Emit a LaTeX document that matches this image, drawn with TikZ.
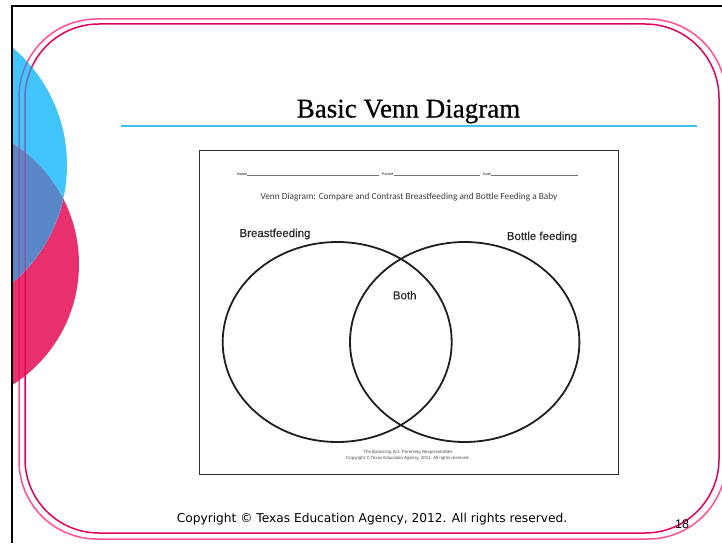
\documentclass[tikz,border=0pt]{standalone}
\usepackage{fontspec}
\setmainfont{Liberation Serif}
\setsansfont{Liberation Sans}
\newfontfamily\calib{Carlito}
\newfontfamily\verd{DejaVu Sans}
\newfontfamily\titleserif[FakeBold=0.6]{Liberation Serif}
\newfontfamily\labelsans[FakeBold=0.5]{Liberation Sans}
\definecolor{framepinkA}{HTML}{FF4F96}
\definecolor{framepinkB}{HTML}{E0005F}
\definecolor{ruleblue}{HTML}{3FC2F2}
\definecolor{dotblue}{HTML}{20BBFA}
\definecolor{dotpink}{HTML}{E40C56}
\definecolor{dotmix}{HTML}{3E72BF}
\definecolor{inkgray}{HTML}{2A2A2A}
\tikzset{
  frameline/.style={line width=1.5pt, rounded corners=78pt},
  venn/.style={line width=1.8pt, draw=black!88},
  label/.style={font=\labelsans\fontsize{11.5}{13}\selectfont, text=inkgray, inner sep=0pt, anchor=base},
  tiny/.style={font=\sffamily\fontsize{4.4}{5}\selectfont, text=black!70, inner sep=0pt, anchor=base},
  formline/.style={line width=0.6pt, draw=black!55},
}
\begin{document}
\begin{tikzpicture}[x=1pt, y=-1pt]
\useasboundingbox (0,0) rectangle (722,543);
\fill[white] (0,0) rectangle (722,543);

% double rounded border of the slide
\draw[frameline, draw=framepinkA] (19,19) rectangle (726,539);
\draw[frameline, draw=framepinkB, rounded corners=74pt] (25,24) rectangle (719,533);

% translucent decorative discs on the left edge
\begin{scope}
  \clip (13.2,7) rectangle (722,543);
  \fill[dotpink, opacity=0.85] (-64,264) circle (143);
  \fill[dotblue, opacity=0.85] (-87,165) circle (154);
  \begin{scope}
    \clip (-64,264) circle (143);
    \fill[white] (-87,165) circle (154);
    \fill[dotmix, opacity=0.85] (-87,165) circle (154);
  \end{scope}
\end{scope}
% border lines shining through the blue disc
\begin{scope}
  \clip (13.2,7) rectangle (722,543);
  \clip (-87,165) circle (154);
  \draw[frameline, draw=framepinkB, opacity=0.3] (19,19) rectangle (726,539);
  \draw[frameline, draw=framepinkB, opacity=0.3, rounded corners=74pt] (25,24) rectangle (719,533);
\end{scope}

% outer black frame (top and left edges)
\draw[line width=2.3pt, black] (12,543) -- (12,6) -- (722,6);

% title and its rule
\node[font=\titleserif\fontsize{27}{31}\selectfont, inner sep=0pt, anchor=base] (title) at (408.5,117.5) {Basic Venn Diagram};
\coordinate (ruleL) at (121,126);
\coordinate (ruleR) at (697,126);
\draw[line width=1.4pt, ruleblue] (ruleL) -- (ruleR);

% worksheet panel
\node[draw=black!80, line width=1.3pt, minimum width=419pt, minimum height=324pt, inner sep=0pt, anchor=north west] (sheet) at (199,149.5) {};

% name / period / date line
\node[tiny, font=\sffamily\bfseries\fontsize{3.6}{4}\selectfont, anchor=base west] (nm) at (237,175) {Name};
\node[tiny, font=\sffamily\bfseries\fontsize{3.6}{4}\selectfont, anchor=base west] (pd) at (382,175) {Period};
\node[tiny, font=\sffamily\bfseries\fontsize{3.6}{4}\selectfont, anchor=base west] (dt) at (483,175) {Date};
\coordinate (nmEnd) at (379,175.5);
\coordinate (pdEnd) at (480,175.5);
\coordinate (dtEnd) at (578,175.5);
\draw[formline] (nm.base east) ++(0,0.5) -- (nmEnd);
\draw[formline] (pd.base east) ++(0,0.5) -- (pdEnd);
\draw[formline] (dt.base east) ++(0,0.5) -- (dtEnd);

\node[font=\calib\fontsize{9.3}{11}\selectfont, text=black!75, inner sep=0pt, anchor=base] (head) at (409,199) {Venn Diagram: Compare and Contrast Breastfeeding and Bottle Feeding a Baby};

% the two overlapping sets
\draw[venn] (337.2,342) ellipse [x radius=114.5, y radius=100];
\draw[venn] (464.7,342) ellipse [x radius=114.7, y radius=100];

\node[label] (setA) at (275,237) {Breastfeeding};
\node[label] (setB) at (542,240) {Bottle feeding};
\node[label] (both) at (404.7,299.3) {Both};

% worksheet footer
\node[tiny] (foot1) at (408,453) {The Balancing Act: Parenting Responsibilities};
\node[tiny] (foot2) at (408,459.5) {Copyright \textcopyright\ Texas Education Agency, 2011. All rights reserved.};

% slide footer
\node[font=\verd\fontsize{12.2}{14}\selectfont, inner sep=0pt, anchor=base] (copy) at (372,522.7) {Copyright \textcopyright\ Texas Education Agency, 2012. All rights reserved.};
\node[font=\sffamily\fontsize{12.5}{14}\selectfont, inner sep=0pt, anchor=base] (page) at (682,528) {18};
\end{tikzpicture}
\end{document}
